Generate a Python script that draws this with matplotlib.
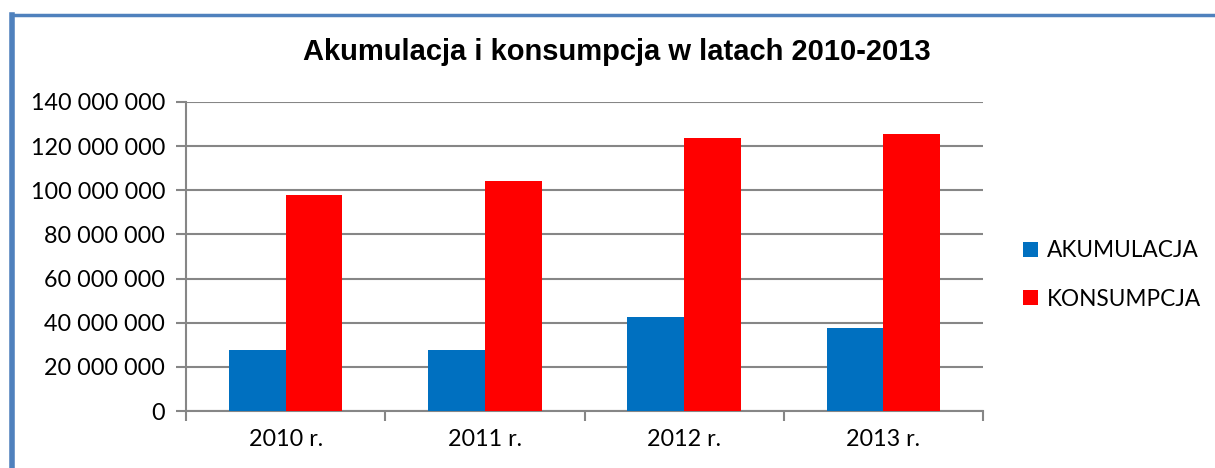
import matplotlib.pyplot as plt
from matplotlib.lines import Line2D
from matplotlib.ticker import FuncFormatter
import numpy as np

# dane
lata = ['2010 r.', '2011 r.', '2012 r.', '2013 r.']
akumulacja = [27.7e6, 27.5e6, 42.6e6, 37.8e6]
konsumpcja = [98.0e6, 104.2e6, 123.5e6, 125.7e6]

W, H = 1215, 468
fig = plt.figure(figsize=(W / 100, H / 100), dpi=100)
ax = fig.add_axes([186 / W, 1 - 411 / H, (983 - 186) / W, (411 - 102) / H])

x = np.arange(len(lata))
w = 0.285
ax.bar(x - w / 2, akumulacja, w, color='#0070C0', label='AKUMULACJA', zorder=3)
ax.bar(x + w / 2, konsumpcja, w, color='#FF0000', label='KONSUMPCJA', zorder=3)

ax.set_xlim(-0.5, len(lata) - 0.5)
ax.set_ylim(0, 140e6)
ax.set_yticks(np.arange(0, 140e6 + 1, 20e6))
ax.yaxis.set_major_formatter(FuncFormatter(lambda v, p: '{:,.0f}'.format(v).replace(',', ' ')))
ax.grid(axis='y', color='#868686', linewidth=1.5, zorder=0)

ax.set_xticks(x)
ax.set_xticklabels(lata)
ax.set_xticks(np.arange(-0.5, len(lata)), minor=True)
ax.tick_params(axis='x', which='major', length=0, pad=13)
ax.tick_params(axis='x', which='minor', length=7, width=1.5, color='#868686')
ax.tick_params(axis='y', length=7, width=1.5, color='#868686', pad=8)
for lab in ax.get_xticklabels() + ax.get_yticklabels():
    lab.set_fontfamily('Lato')
    lab.set_fontsize(16.8)

for s in ['top', 'right']:
    ax.spines[s].set_visible(False)
for s in ['left', 'bottom']:
    ax.spines[s].set_color('#868686')
    ax.spines[s].set_linewidth(1.5)

fig.text(617 / W, 1 - 52 / H, 'Akumulacja i konsumpcja w latach 2010-2013',
         ha='center', va='center', fontsize=21, fontweight='bold',
         family='Liberation Sans')

fig.legend(loc='center left', bbox_to_anchor=(1003 / W, 1 - 275 / H),
           frameon=False, handlelength=0.65, handleheight=0.65, handletextpad=0.4,
           labelspacing=1.2, prop={'family': 'Lato', 'size': 16.3})

# ramka wykresu
fig.add_artist(Line2D([12 / W, 1], [1 - 15 / H, 1 - 15 / H], color='#4F81BD', linewidth=2.5))
fig.add_artist(Line2D([12 / W, 12 / W], [0, 1 - 15 / H], color='#4F81BD', linewidth=4))

fig.savefig('out.png', dpi=100)
